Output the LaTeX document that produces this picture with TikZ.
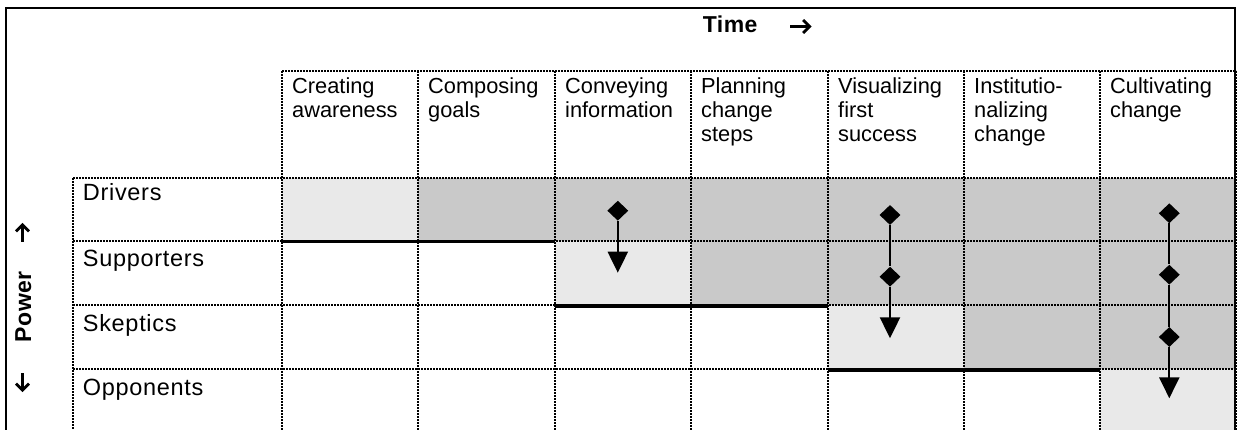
\documentclass[tikz,border=0pt]{standalone}
\usepackage{fontspec}
\setmainfont{Liberation Sans}
\usetikzlibrary{shapes.geometric,arrows.meta}
\definecolor{cellLight}{RGB}{233,233,233}
\definecolor{cellDark}{RGB}{201,201,201}
\begin{document}
\begin{tikzpicture}[x=1pt,y=-1pt,
  gridline/.style={line width=1.2pt, dash pattern=on 2pt off 1pt},
  stairline/.style={line width=3.4pt},
  frameline/.style={line width=2.4pt},
  headtext/.style={anchor=north west, inner sep=0pt, align=left,
    font=\fontsize{21.8}{24}\selectfont},
  rowtext/.style={anchor=base west, inner sep=0pt,
    font=\fontsize{23.5}{26}\selectfont\addfontfeature{LetterSpace=3}},
  axistext/.style={inner sep=0pt,
    font=\bfseries\fontsize{23}{26}\selectfont\addfontfeature{LetterSpace=2}},
  axisarrow/.style={line width=2.8pt, -{Straight Barb[length=6.5pt,width=13pt]}},
  milestone/.style={diamond, fill=black, inner sep=0pt,
    minimum width=21pt, minimum height=20pt},
  flow/.style={line width=2.2pt, -{Triangle[width=20pt,length=21pt]}},
]
\useasboundingbox (0,0) rectangle (1237,430);
\clip (0,0) rectangle (1237,430);

% column boundaries and row boundaries
\def\cA{282}\def\cB{418}\def\cC{555}\def\cD{691}
\def\cE{828}\def\cF{964}\def\cG{1100}\def\cH{1236}
\def\rA{178}\def\rB{241}\def\rC{305}\def\rD{369}\def\rE{440}

% shaded cells
\fill[cellLight] (\cA,\rA) rectangle (\cB,\rB);
\fill[cellDark]  (\cB,\rA) rectangle (\cH,\rB);
\fill[cellLight] (\cC,\rB) rectangle (\cD,\rC);
\fill[cellDark]  (\cD,\rB) rectangle (\cH,\rC);
\fill[cellLight] (\cE,\rC) rectangle (\cF,\rD);
\fill[cellDark]  (\cF,\rC) rectangle (\cH,\rD);
\fill[cellLight] (\cG,\rD) rectangle (\cH,\rE);

% dotted grid
\draw[gridline] (\cA,71) -- (\cH,71);
\foreach \x in {\cA,\cB,\cC,\cD,\cE,\cF,\cG,\cH}
  \draw[gridline] (\x,71) -- (\x,\rE);
\draw[gridline] (73,\rA) -- (73,\rE);
\foreach \y in {\rA,\rB,\rC,\rD}
  \draw[gridline] (73,\y) -- (\cH,\y);

% staircase boundary
\draw[stairline] (\cA,241.5) -- (\cC,241.5);
\draw[stairline] (\cC,306) -- (\cE,306);
\draw[stairline] (\cE,370) -- (\cG,370);

% outer frame
\draw[frameline] (6.2,\rE) -- (6.2,8.3) -- (1234.8,8.3) -- (1234.8,\rE);

% column headings
\node[headtext] (h1) at (292,77.5) {Creating\\awareness};
\node[headtext] (h2) at (428,77.5) {Composing\\goals};
\node[headtext] (h3) at (565,77.5) {Conveying\\information};
\node[headtext] (h4) at (701,77.5) {Planning\\change\\steps};
\node[headtext] (h5) at (838,77.5) {Visualizing\\first\\success};
\node[headtext] (h6) at (974,77.5) {Institutio-\\nalizing\\change};
\node[headtext] (h7) at (1110,77.5) {Cultivating\\change};

% row labels
\node[rowtext] (drivers) at (82.7,200.7) {Drivers};
\node[rowtext] (supporters) at (82.7,266.7) {Supporters};
\node[rowtext] (skeptics) at (82.7,331) {Skeptics};
\node[rowtext] (opponents) at (82.7,395) {Opponents};

% axis captions with their direction arrows
\node[axistext, anchor=base west] (time) at (702.7,32.3) {Time};
\coordinate (timeA) at (790,26.5);
\coordinate (timeB) at (811.5,26.5);
\draw[axisarrow] (timeA) -- (timeB);

\node[axistext, rotate=90, anchor=base] (power) at (31,306.7) {Power};
\coordinate (upA) at (22.5,242);
\coordinate (upB) at (22.5,223);
\draw[axisarrow] (upA) -- (upB);
\coordinate (downA) at (22.5,373);
\coordinate (downB) at (22.5,392);
\draw[axisarrow] (downA) -- (downB);

% movement of the groups
\node[milestone] (m3a) at (617.8,210.7) {};
\coordinate (e3) at (617.8,272.7);
\draw[flow] (m3a) -- (e3);

\node[milestone] (m5a) at (890,215) {};
\node[milestone] (m5b) at (890,276.7) {};
\coordinate (e5) at (890,338.3);
\draw[line width=2.2pt] (m5a) -- (m5b);
\draw[flow] (m5b) -- (e5);

\node[milestone] (m7a) at (1169.3,213.3) {};
\node[milestone] (m7b) at (1169.3,274.7) {};
\node[milestone] (m7c) at (1169.3,337) {};
\coordinate (e7) at (1169.3,398.3);
\draw[line width=2.2pt] (m7a) -- (m7b);
\draw[line width=2.2pt] (m7b) -- (m7c);
\draw[flow] (m7c) -- (e7);
\end{tikzpicture}
\end{document}
